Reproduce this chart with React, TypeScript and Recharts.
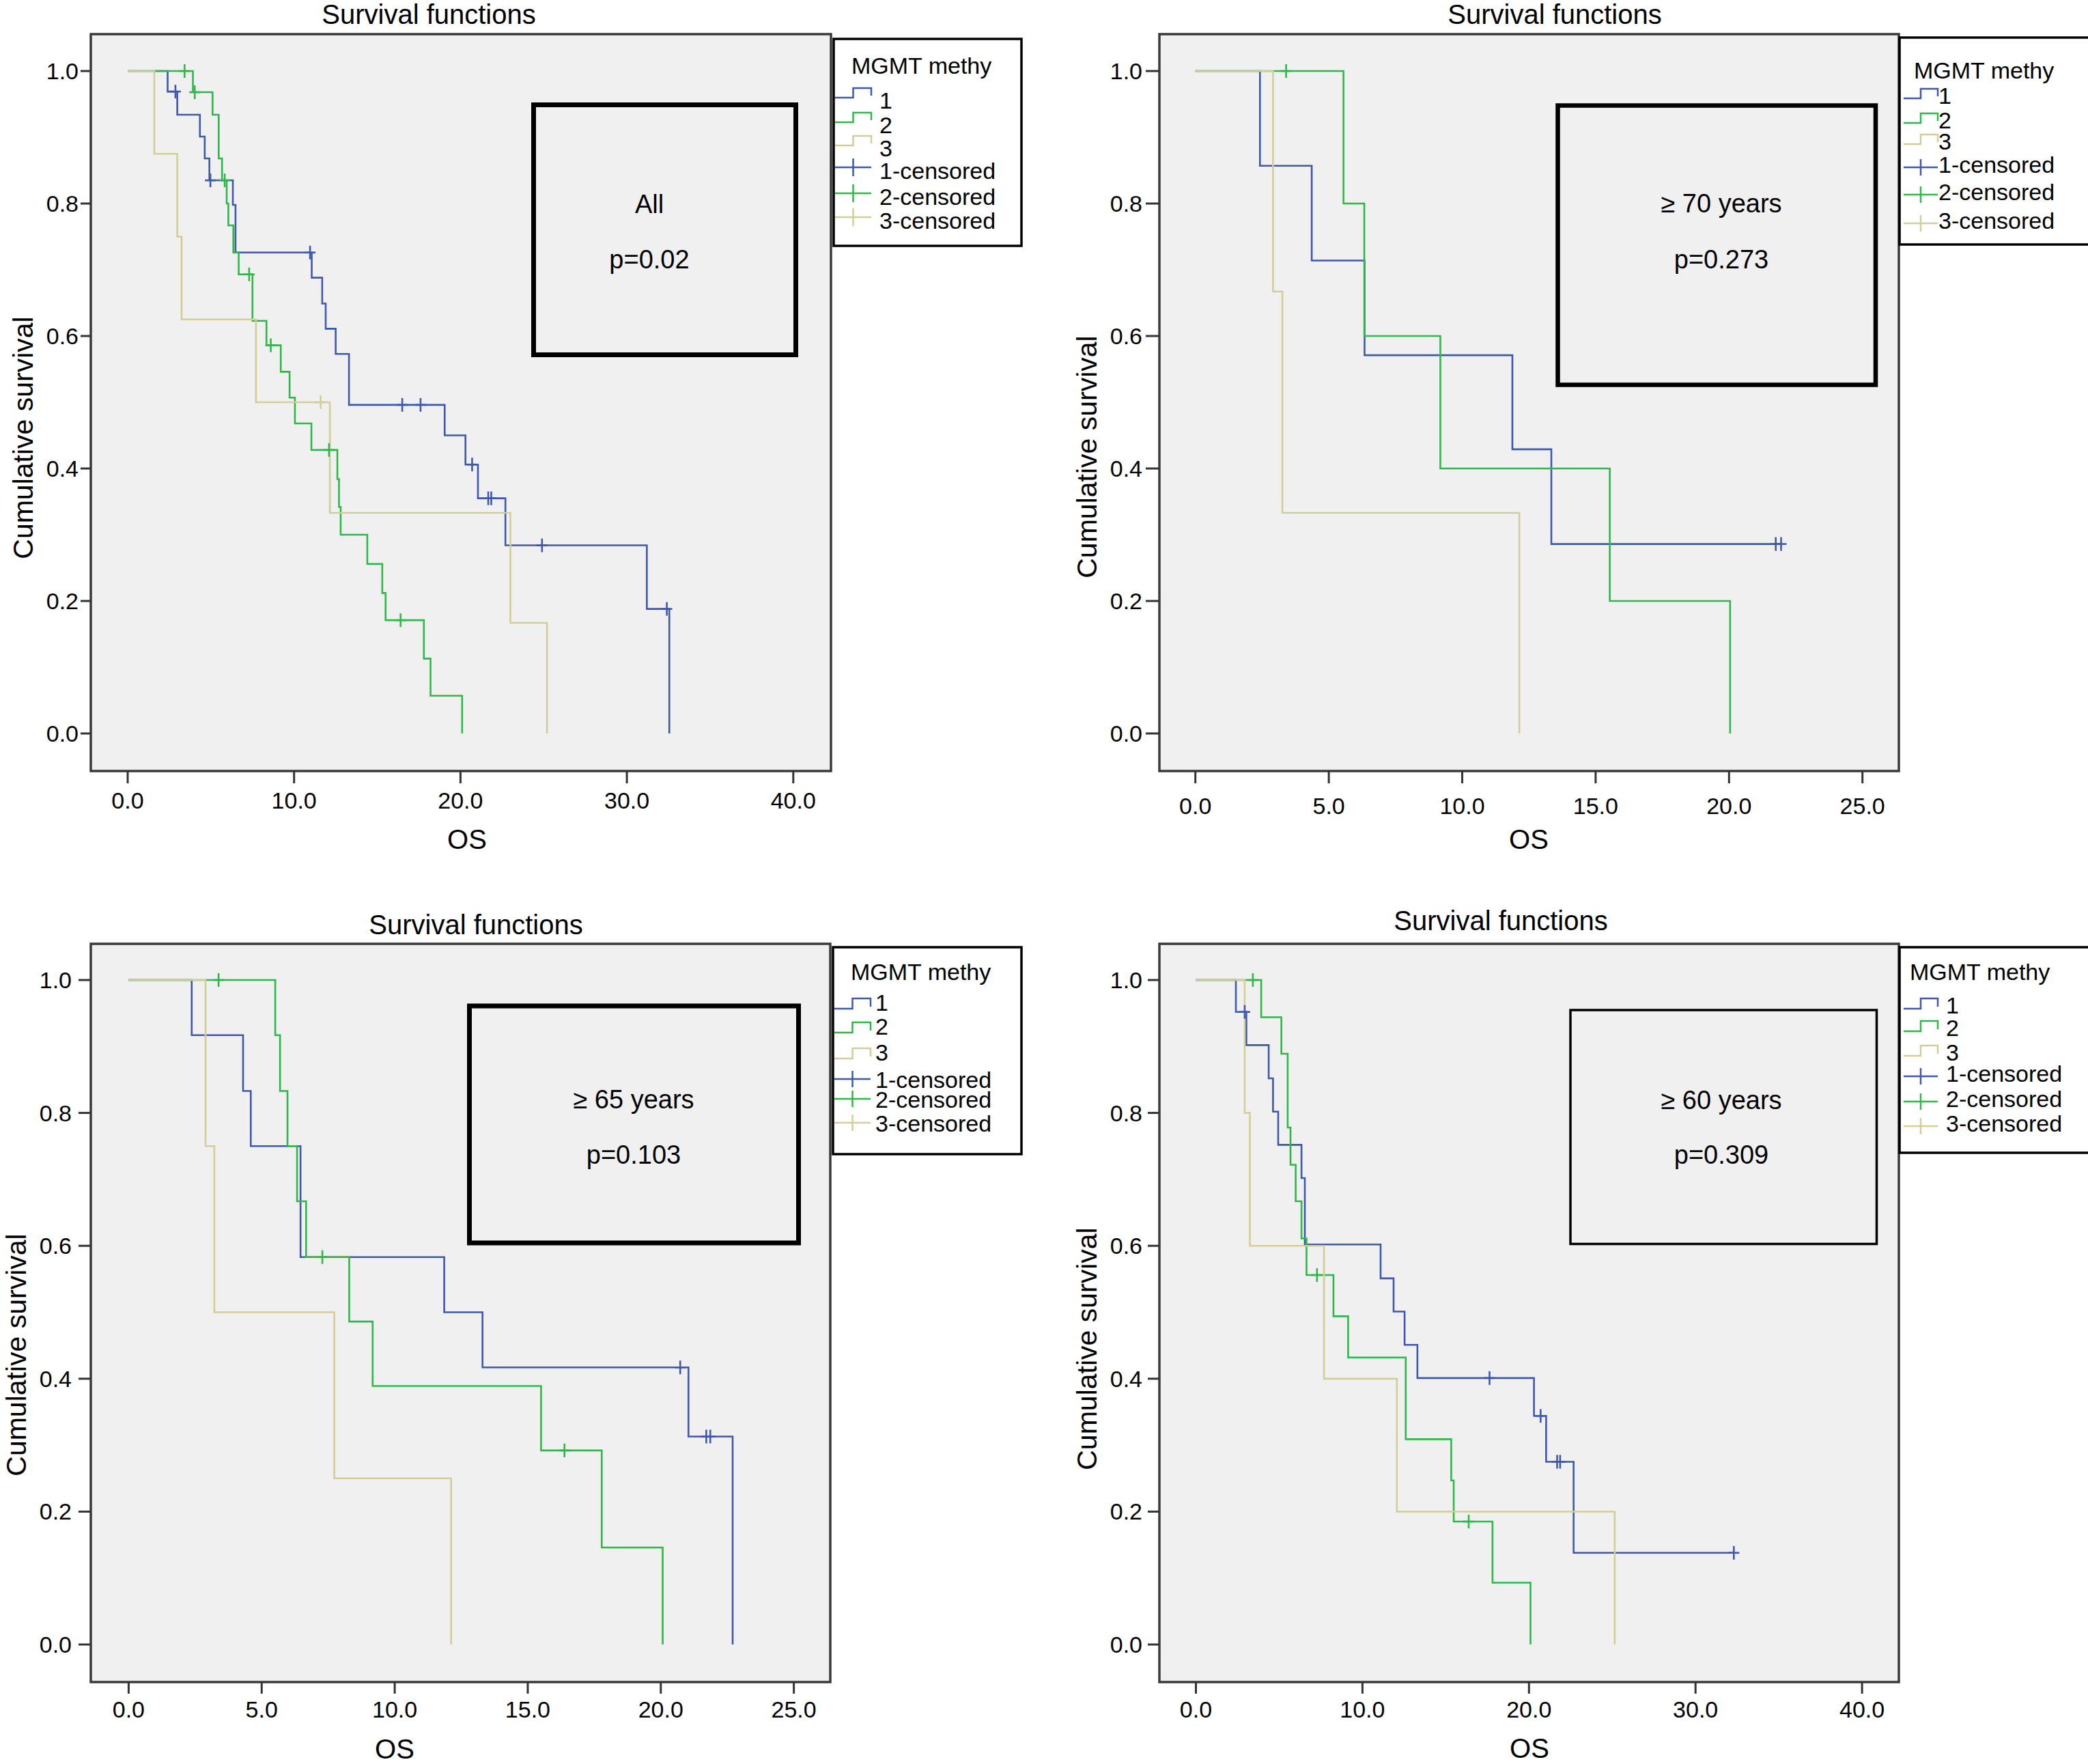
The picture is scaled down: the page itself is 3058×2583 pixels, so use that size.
import React from "react";
import { ComposedChart, Line, Scatter, XAxis, YAxis, ReferenceArea } from "recharts";

const FONT = "'Liberation Sans', Arial, Helvetica, sans-serif";
const BLUE = "#3e58ac";
const GREEN = "#2eb848";
const TAN = "#d3ce97";

type Pt = [number, number];

// ---- All patients ----
const allG1: Pt[] = [[0, 1], [2.4, 0.969], [2.98, 0.934], [4.34, 0.901], [4.63, 0.868], [4.91, 0.835], [6.32, 0.798], [6.48, 0.726], [11.06, 0.688], [11.69, 0.649], [11.9, 0.611], [12.5, 0.573], [13.3, 0.496], [19.05, 0.45], [20.3, 0.406], [21.05, 0.355], [22.7, 0.284], [31.2, 0.188], [32.55, 0]];
const allG1Cens: Pt[] = [[2.87, 0.969], [4.97, 0.835], [10.96, 0.726], [16.5, 0.496], [17.6, 0.496], [20.7, 0.406], [21.67, 0.355], [21.85, 0.355], [24.9, 0.284], [32.4, 0.188]];
const allG2: Pt[] = [[0, 1], [3.92, 0.968], [5.1, 0.934], [5.47, 0.868], [5.67, 0.835], [5.95, 0.8], [6.05, 0.767], [6.35, 0.726], [6.67, 0.693], [7.5, 0.623], [8.34, 0.586], [9.2, 0.546], [9.73, 0.507], [10.05, 0.468], [11.04, 0.428], [12.6, 0.384], [12.7, 0.342], [12.8, 0.3], [14.4, 0.256], [15.3, 0.212], [15.5, 0.171], [17.8, 0.113], [18.2, 0.057], [20.1, 0]];
const allG2Cens: Pt[] = [[3.42, 1], [4.03, 0.968], [5.83, 0.835], [7.3, 0.693], [8.6, 0.586], [12.1, 0.428], [16.4, 0.171]];
const allG3: Pt[] = [[0, 1], [1.6, 0.875], [2.98, 0.75], [3.24, 0.625], [7.71, 0.5], [12.15, 0.333], [23.0, 0.167], [25.2, 0]];
const allG3Cens: Pt[] = [[11.6, 0.5]];

// ---- >= 70 years ----
const a70G1: Pt[] = [[0, 1], [2.42, 0.857], [4.36, 0.714], [6.34, 0.571], [11.88, 0.429], [13.34, 0.286], [21.95, 0.286]];
const a70G1Cens: Pt[] = [[21.75, 0.286], [21.95, 0.286]];
const a70G2: Pt[] = [[0, 1], [5.55, 0.8], [6.33, 0.6], [9.18, 0.4], [15.53, 0.2], [20.04, 0]];
const a70G2Cens: Pt[] = [[3.4, 1]];
const a70G3: Pt[] = [[0, 1], [2.91, 0.667], [3.26, 0.333], [12.14, 0]];
const a70G3Cens: Pt[] = [];

// ---- >= 65 years ----
const a65G1: Pt[] = [[0, 1], [2.37, 0.917], [4.3, 0.833], [4.59, 0.75], [6.46, 0.583], [11.86, 0.5], [13.3, 0.417], [21.04, 0.313], [22.7, 0]];
const a65G1Cens: Pt[] = [[20.73, 0.417], [21.71, 0.313], [21.86, 0.313]];
const a65G2: Pt[] = [[0, 1], [5.51, 0.917], [5.69, 0.833], [5.97, 0.75], [6.33, 0.667], [6.67, 0.583], [8.29, 0.486], [9.17, 0.389], [15.5, 0.292], [17.78, 0.146], [20.07, 0]];
const a65G2Cens: Pt[] = [[3.38, 1], [7.28, 0.583], [16.38, 0.292]];
const a65G3: Pt[] = [[0, 1], [2.89, 0.75], [3.22, 0.5], [7.73, 0.25], [12.12, 0]];
const a65G3Cens: Pt[] = [];

// ---- >= 60 years ----
const a60G1: Pt[] = [[0, 1], [2.4, 0.952], [3.03, 0.902], [4.37, 0.852], [4.63, 0.802], [4.94, 0.752], [6.34, 0.702], [6.54, 0.602], [11.09, 0.551], [11.87, 0.501], [12.53, 0.451], [13.3, 0.401], [20.3, 0.344], [21.03, 0.275], [22.68, 0.138], [32.35, 0.138]];
const a60G1Cens: Pt[] = [[2.93, 0.952], [17.63, 0.401], [20.7, 0.344], [21.69, 0.275], [21.87, 0.275], [32.3, 0.138]];
const a60G2: Pt[] = [[0, 1], [3.92, 0.944], [5.13, 0.889], [5.51, 0.778], [5.68, 0.722], [5.99, 0.667], [6.34, 0.611], [6.64, 0.556], [8.26, 0.494], [9.14, 0.432], [12.6, 0.309], [15.33, 0.247], [15.48, 0.185], [17.81, 0.093], [20.09, 0]];
const a60G2Cens: Pt[] = [[3.42, 1], [7.27, 0.556], [16.38, 0.185]];
const a60G3: Pt[] = [[0, 1], [2.93, 0.8], [3.24, 0.6], [7.69, 0.4], [12.07, 0.2], [25.15, 0]];
const a60G3Cens: Pt[] = [];

const survivalTicks = [0, 0.2, 0.4, 0.6, 0.8, 1.0];
const osTicks40 = [0, 10, 20, 30, 40];
const osTicks25 = [0, 5, 10, 15, 20, 25];
const legendItems = ["1", "2", "3", "1-censored", "2-censored", "3-censored"];
const groupColors = [BLUE, GREEN, TAN, BLUE, GREEN, TAN];

const rows = (pts: Pt[]) => pts.map(([t, s]) => ({ t, s }));

const Y_AXIS_W = 120;
const X_AXIS_H = 80;

const panels = [
  {
    id: "all", box: { x: 0, y: 0, w: 1300, h: 1260 }, plot: { l: 133, t: 50, r: 1217, b: 1129 },
    xDomain: [-2.216, 42.265], xTicks: osTicks40, yDomain: [-0.0567, 1.0557],
    yTickSize: 15, yTickMargin: 3, xTickSize: 18, xTickMargin: 13,
    series: [[allG1, allG1Cens, BLUE], [allG2, allG2Cens, GREEN], [allG3, allG3Cens, TAN]],
  },
  {
    id: "a70", box: { x: 1560, y: 0, w: 1300, h: 1260 }, plot: { l: 1698, t: 50, r: 2781, b: 1129 },
    xDomain: [-1.349, 26.364], xTicks: osTicks25, yDomain: [-0.0567, 1.0557],
    yTickSize: 20, yTickMargin: 5, xTickSize: 18, xTickMargin: 21,
    series: [[a70G1, a70G1Cens, BLUE], [a70G2, a70G2Cens, GREEN], [a70G3, a70G3Cens, TAN]],
  },
  {
    id: "a65", box: { x: 0, y: 1320, w: 1300, h: 1260 }, plot: { l: 133, t: 1382, r: 1216, b: 2463 },
    xDomain: [-1.422, 26.37], xTicks: osTicks25, yDomain: [-0.0565, 1.0545],
    yTickSize: 18, yTickMargin: 10, xTickSize: 17, xTickMargin: 11,
    series: [[a65G1, a65G1Cens, BLUE], [a65G2, a65G2Cens, GREEN], [a65G3, a65G3Cens, TAN]],
  },
  {
    id: "a60", box: { x: 1560, y: 1320, w: 1300, h: 1260 }, plot: { l: 1698, t: 1382, r: 2781, b: 2463 },
    xDomain: [-2.193, 42.21], xTicks: osTicks40, yDomain: [-0.0565, 1.0545],
    yTickSize: 17, yTickMargin: 8, xTickSize: 17, xTickMargin: 11,
    series: [[a60G1, a60G1Cens, BLUE], [a60G2, a60G2Cens, GREEN], [a60G3, a60G3Cens, TAN]],
  },
];

function censorShape(color: string) {
  return (p: any) => (
    <g stroke={color} strokeWidth={2.6}>
      <line x1={p.cx} x2={p.cx} y1={p.cy - 10} y2={p.cy + 10} />
      <line x1={p.cx - 8} x2={p.cx + 8} y1={p.cy} y2={p.cy} />
    </g>
  );
}

function Panel({ cfg }: { cfg: any }) {
  const { box, plot } = cfg;
  const margin = {
    left: plot.l - box.x - Y_AXIS_W,
    top: plot.t - box.y,
    right: box.x + box.w - plot.r,
    bottom: box.y + box.h - plot.b - X_AXIS_H,
  };
  const tickFont = { fill: "#000", fontSize: 34, fontFamily: FONT };
  const tickLine = { stroke: "#333", strokeWidth: 3 };
  const order = [0, 1, 2];
  return (
    <div style={{ position: "absolute", left: box.x, top: box.y }}>
      <ComposedChart width={box.w} height={box.h} margin={margin}>
        <XAxis
          type="number" dataKey="t" domain={cfg.xDomain} allowDataOverflow ticks={cfg.xTicks}
          tickFormatter={(v: number) => v.toFixed(1)} height={X_AXIS_H} axisLine={false}
          tickLine={tickLine} tickSize={cfg.xTickSize} tickMargin={cfg.xTickMargin} tick={tickFont} interval={0}
        />
        <YAxis
          type="number" dataKey="s" domain={cfg.yDomain} allowDataOverflow ticks={survivalTicks}
          tickFormatter={(v: number) => v.toFixed(1)} width={Y_AXIS_W} axisLine={false}
          tickLine={tickLine} tickSize={cfg.yTickSize} tickMargin={cfg.yTickMargin} tick={tickFont} interval={0}
        />
        <ReferenceArea
          x1={cfg.xDomain[0]} x2={cfg.xDomain[1]} y1={cfg.yDomain[0]} y2={cfg.yDomain[1]}
          fill="#f0f0f0" fillOpacity={1} stroke="#3a3a3a" strokeWidth={3.5} ifOverflow="visible"
        />
        {order.map((i) => (
          <Line
            key={`l${i}`} data={rows(cfg.series[i][0])} dataKey="s" type="stepAfter"
            stroke={cfg.series[i][2]} strokeWidth={2.6} dot={false} activeDot={false}
            isAnimationActive={false} legendType="none"
          />
        ))}
        {order.map((i) => (
          <Scatter
            key={`c${i}`} data={rows(cfg.series[i][1])} dataKey="s"
            shape={censorShape(cfg.series[i][2])} isAnimationActive={false} legendType="none"
          />
        ))}
      </ComposedChart>
    </div>
  );
}

function StepIcon({ x0, x1, base, hi, lo, color }: any) {
  const mid = (x0 + x1) / 2;
  return <path d={`M${x0},${base - lo} H${mid} V${base - hi} H${x1} V${base - lo - 3}`} fill="none" stroke={color} strokeWidth={2.5} />;
}

function CensorIcon({ x0, x1, base, cm, half, color }: any) {
  const mid = (x0 + x1) / 2;
  return (
    <g stroke={color} strokeWidth={2.5}>
      <line x1={x0} x2={x1} y1={base - cm} y2={base - cm} />
      <line x1={mid} x2={mid} y1={base - cm - half} y2={base - cm + half} />
    </g>
  );
}

const legends = [
  { bx: 1221, by: 57, bw: 275, bh: 303, tx: 1247, tb: 108, ix: 1288, i0: 1223, i1: 1276, hi: 30, lo: 16, cm: 17, half: 13, bases: [159, 195, 229, 262, 300, 335] },
  { bx: 2782, by: 55, bw: 300, bh: 303, tx: 2803, tb: 115, ix: 2839, i0: 2788, i1: 2838, hi: 22, lo: 8, cm: 8, half: 12, bases: [152, 188, 219, 253, 293, 335] },
  { bx: 1220, by: 1387, bw: 276, bh: 303, tx: 1246, tb: 1435, ix: 1282, i0: 1222, i1: 1275, hi: 18, lo: 3, cm: 13, half: 12, bases: [1480, 1515, 1553, 1593, 1622, 1657] },
  { bx: 2782, by: 1387, bw: 300, bh: 301, tx: 2797, tb: 1435, ix: 2850, i0: 2788, i1: 2838, hi: 22, lo: 7, cm: 8, half: 12, bases: [1484, 1517, 1553, 1584, 1621, 1657] },
];

const infoBoxes = [
  { x: 781.5, y: 153.5, w: 384, h: 366, sw: 7, cx: 951, b1: 312, b2: 393, l1: "All", l2: "p=0.02" },
  { x: 2281.5, y: 154.5, w: 465.5, h: 409, sw: 6.5, cx: 2521, b1: 311, b2: 393, l1: "≥ 70 years", l2: "p=0.273" },
  { x: 687.5, y: 1473, w: 482, h: 347, sw: 7, cx: 928, b1: 1623, b2: 1704, l1: "≥ 65 years", l2: "p=0.103" },
  { x: 2300, y: 1479, w: 448.5, h: 342.5, sw: 3.5, cx: 2521, b1: 1624, b2: 1704, l1: "≥ 60 years", l2: "p=0.309" },
];

const titles = [
  { x: 628, y: 35 },
  { x: 2277, y: 35 },
  { x: 697, y: 1368 },
  { x: 2198, y: 1362 },
];

const yLabels = [
  { x: 48, y: 641 },
  { x: 1606, y: 669 },
  { x: 38, y: 1984 },
  { x: 1606, y: 1975 },
];

const osLabels = [
  { x: 684, y: 1243 },
  { x: 2239, y: 1243 },
  { x: 578, y: 2575 },
  { x: 2240, y: 2574 },
];

export default function App() {
  return (
    <div style={{ position: "absolute", left: 0, top: 0, width: 3058, height: 2583, background: "#fff", overflow: "hidden" }}>
      {panels.map((p) => <Panel key={p.id} cfg={p} />)}
      <svg width={3058} height={2583} style={{ position: "absolute", left: 0, top: 0, pointerEvents: "none" }} fontFamily={FONT}>
        {titles.map((t, i) => (
          <text key={`t${i}`} x={t.x} y={t.y} fontSize={40} textAnchor="middle" fill="#000">Survival functions</text>
        ))}
        {yLabels.map((t, i) => (
          <text key={`y${i}`} x={t.x} y={t.y} fontSize={41} textAnchor="middle" fill="#000" transform={`rotate(-90, ${t.x}, ${t.y})`}>Cumulative survival</text>
        ))}
        {osLabels.map((t, i) => (
          <text key={`o${i}`} x={t.x} y={t.y} fontSize={40} textAnchor="middle" fill="#000">OS</text>
        ))}
        {infoBoxes.map((b, i) => (
          <g key={`b${i}`}>
            <rect x={b.x} y={b.y} width={b.w} height={b.h} fill="none" stroke="#000" strokeWidth={b.sw} />
            <text x={b.cx} y={b.b1} fontSize={38} textAnchor="middle" fill="#000">{b.l1}</text>
            <text x={b.cx} y={b.b2} fontSize={38} textAnchor="middle" fill="#000">{b.l2}</text>
          </g>
        ))}
        {legends.map((lg, i) => (
          <g key={`lg${i}`}>
            <rect x={lg.bx} y={lg.by} width={lg.bw} height={lg.bh} fill="#fff" stroke="#000" strokeWidth={3.5} />
            <text x={lg.tx} y={lg.tb} fontSize={34} fill="#000">MGMT methy</text>
            {legendItems.map((name, k) => (
              <g key={name}>
                {k < 3
                  ? <StepIcon x0={lg.i0} x1={lg.i1} base={lg.bases[k]} hi={lg.hi} lo={lg.lo} color={groupColors[k]} />
                  : <CensorIcon x0={lg.i0} x1={lg.i1} base={lg.bases[k]} cm={lg.cm} half={lg.half} color={groupColors[k]} />}
                <text x={lg.ix} y={lg.bases[k]} fontSize={34} fill="#000">{name}</text>
              </g>
            ))}
          </g>
        ))}
      </svg>
    </div>
  );
}
